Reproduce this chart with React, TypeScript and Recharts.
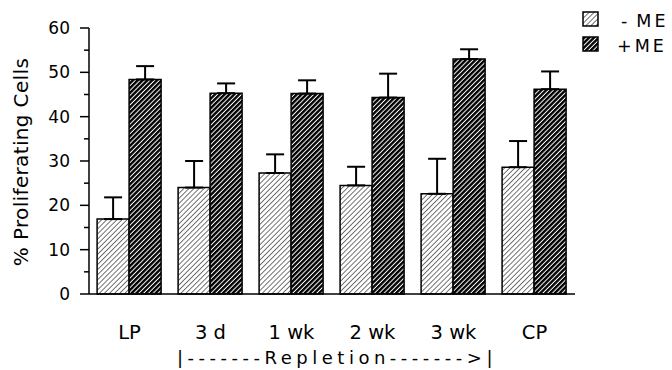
import React from 'react';
import { BarChart, Bar, XAxis, YAxis, ErrorBar } from 'recharts';

const categories = ['LP', '3 d', '1 wk', '2 wk', '3 wk', 'CP'];
const minusME = [16.9, 24.0, 27.3, 24.5, 22.6, 28.6];
const minusMEErr = [4.9, 6.0, 4.2, 4.2, 7.9, 5.9];
const plusME = [48.4, 45.3, 45.2, 44.3, 53.0, 46.2];
const plusMEErr = [3.0, 2.2, 3.0, 5.4, 2.2, 4.0];
const yTicks = [0, 5, 10, 15, 20, 25, 30, 35, 40, 45, 50, 55, 60];
const xTitle = '|-------Repletion------->|';

const data = categories.map((c, i) => ({
  name: c,
  minus: minusME[i],
  minusErr: [0, minusMEErr[i]],
  plus: plusME[i],
  plusErr: [0, plusMEErr[i]],
}));

const FONT = '"DejaVu Sans", Verdana, sans-serif';

const YTick = (props: any) => {
  const { x, y, payload } = props;
  const major = payload.value % 10 === 0;
  return (
    <g>
      <line x1={x - (major ? 9 : 5)} x2={x} y1={y} y2={y} stroke="#000" strokeWidth={1.5} />
      {major && (
        <text x={x - 19} y={y} dy={6} textAnchor="end" fontSize={17} fontFamily={FONT} fill="#000">
          {payload.value}
        </text>
      )}
    </g>
  );
};

const XTick = (props: any) => {
  const { x, y, payload } = props;
  return (
    <text x={x} y={y + 37} textAnchor="middle" fontSize={19.5} fontFamily={FONT} fill="#000">
      {payload.value}
    </text>
  );
};

export default function App() {
  return (
    <div style={{ position: 'absolute', left: 0, top: 0, width: 672, height: 370, background: '#fff' }}>
      <svg width={0} height={0} style={{ position: 'absolute' }}>
        <defs>
          <pattern id="hatchLight" width={3.6} height={3.6} patternUnits="userSpaceOnUse" patternTransform="rotate(45)">
            <rect width={3.6} height={3.6} fill="#fff" />
            <line x1={0} y1={0} x2={0} y2={3.6} stroke="#000" strokeWidth={1.1} />
          </pattern>
          <pattern id="hatchDark" width={3.4} height={3.4} patternUnits="userSpaceOnUse" patternTransform="rotate(45)">
            <rect width={3.4} height={3.4} fill="#fff" />
            <line x1={1.2} y1={0} x2={1.2} y2={3.4} stroke="#000" strokeWidth={2.4} />
          </pattern>
        </defs>
      </svg>
      <BarChart
        width={672}
        height={370}
        data={data}
        margin={{ top: 28, right: 97, left: 0, bottom: 0 }}
        barCategoryGap="10%"
        barGap={0}
      >
        <XAxis
          dataKey="name"
          height={76}
          tickLine={false}
          axisLine={{ stroke: '#000', strokeWidth: 1.5 }}
          tick={<XTick />}
          interval={0}
        />
        <YAxis
          width={89}
          domain={[0, 60]}
          ticks={yTicks}
          interval={0}
          tickLine={false}
          tickSize={0}
          tickMargin={0}
          axisLine={{ stroke: '#000', strokeWidth: 1.5 }}
          tick={<YTick />}
        />
        <Bar dataKey="minus" fill="url(#hatchLight)" stroke="#000" strokeWidth={1.5} isAnimationActive={false}>
          <ErrorBar dataKey="minusErr" width={9} stroke="#000" strokeWidth={2} direction="y" />
        </Bar>
        <Bar dataKey="plus" fill="url(#hatchDark)" stroke="#000" strokeWidth={1.5} isAnimationActive={false}>
          <ErrorBar dataKey="plusErr" width={9} stroke="#000" strokeWidth={2} direction="y" />
        </Bar>
        <text
          x={28}
          y={162}
          transform="rotate(-90 28 162)"
          textAnchor="middle"
          fontSize={20}
          letterSpacing={0.35}
          fontFamily={FONT}
          fill="#000"
        >
          % Proliferating Cells
        </text>
        <text x={337} y={364} textAnchor="middle" fontSize={18} fontFamily={FONT} letterSpacing={4.5} fill="#000">
          {xTitle}
        </text>
        <rect x={583} y={12} width={15} height={14} fill="url(#hatchLight)" stroke="#000" strokeWidth={1.5} />
        <text x={621} y={27} fontSize={17.5} fontFamily={FONT} letterSpacing={3} fill="#000">
          <tspan>-</tspan>
          <tspan dx={6}>ME</tspan>
        </text>
        <rect x={583} y={37} width={15} height={14} fill="url(#hatchDark)" stroke="#000" strokeWidth={1.5} />
        <text x={617} y={52} fontSize={17.5} fontFamily={FONT} letterSpacing={3} fill="#000">+ME</text>
      </BarChart>
    </div>
  );
}
